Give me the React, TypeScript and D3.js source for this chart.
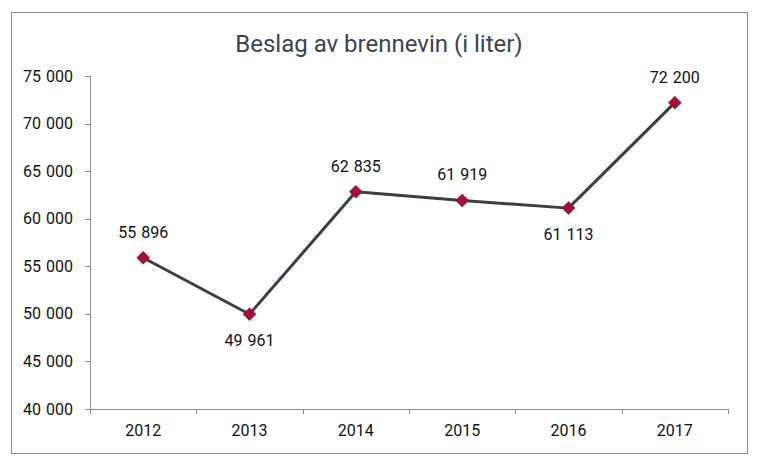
import React from "react";
import * as d3 from "d3";

const years = ["2012", "2013", "2014", "2015", "2016", "2017"];
const values = [55896, 49961, 62835, 61919, 61113, 72200];
const labelPos = ["above", "below", "above", "above", "below", "above"];
const yTicks = [40000, 45000, 50000, 55000, 60000, 65000, 70000, 75000];
const title = "Beslag av brennevin (i liter)";

const W = 760;
const H = 466;
const margin = { left: 90, right: 32, top: 76, bottom: 57 };

const fmtParts = (v: number) => d3.format(",")(v).split(",");

function Num({ v, ...rest }: any) {
  const parts = fmtParts(v);
  return (
    <text {...rest}>
      {parts.map((p, i) => (
        <tspan key={i} dx={i === 0 ? 0 : 5}>
          {p}
        </tspan>
      ))}
    </text>
  );
}

export default function App() {
  const x = d3
    .scaleBand<string>()
    .domain(years)
    .range([margin.left, W - margin.right])
    .paddingInner(0)
    .paddingOuter(0);
  const y = d3
    .scaleLinear()
    .domain([40000, 75000])
    .range([H - margin.bottom, margin.top]);
  const cx = (d: string) => (x(d) as number) + x.bandwidth() / 2;
  const line = d3
    .line<number>()
    .x((_, i) => cx(years[i]))
    .y((d) => y(d));
  const font = "Roboto, 'Noto Sans', sans-serif";
  const axisColor = "#8c8c8c";
  const y0 = y(40000);
  const boundaries = years.map((d) => x(d) as number).concat([W - margin.right]);

  return (
    <svg
      width={W}
      height={H}
      style={{ position: "absolute", left: 0, top: 0, display: "block" }}
      fontFamily={font}
    >
      <rect x={0} y={0} width={W} height={H} fill="#fff" />
      <rect x={11.5} y={12.5} width={736} height={441} fill="none" stroke="#8c8c8c" strokeWidth={1} />
      <text x={379} y={52} textAnchor="middle" fontSize={24} fill="#3b4350">
        {title}
      </text>
      {/* y axis */}
      <line x1={margin.left + 0.5} x2={margin.left + 0.5} y1={y(75000)} y2={y0} stroke={axisColor} />
      {yTicks.map((t) => (
        <g key={t}>
          <line x1={margin.left - 5} x2={margin.left} y1={Math.round(y(t)) + 0.5} y2={Math.round(y(t)) + 0.5} stroke={axisColor} />
          <Num v={t} x={73} y={y(t) + 5.5} textAnchor="end" fontSize={16} fill="#111" />
        </g>
      ))}
      {/* x axis */}
      <line x1={margin.left} x2={W - margin.right} y1={Math.round(y0) + 0.5} y2={Math.round(y0) + 0.5} stroke={axisColor} />
      {boundaries.map((b, i) => (
        <line key={i} x1={Math.round(b) + 0.5} x2={Math.round(b) + 0.5} y1={y0} y2={y0 + 5} stroke={axisColor} />
      ))}
      {years.map((d) => (
        <text key={d} x={cx(d)} y={y0 + 27} textAnchor="middle" fontSize={16} fill="#111">
          {d}
        </text>
      ))}
      <path d={line(values) || ""} fill="none" stroke="#3a3f47" strokeWidth={3} strokeLinejoin="round" />
      {values.map((v, i) => {
        const px = cx(years[i]);
        const py = y(v);
        return (
          <g key={i}>
            <path
              d={`M${px},${py - 6.5}L${px + 6.5},${py}L${px},${py + 6.5}L${px - 6.5},${py}Z`}
              fill="#a50e36"
              stroke="#8a0a2c"
              strokeWidth={0.5}
            />
            <Num
              v={v}
              x={px}
              y={labelPos[i] === "above" ? py - 20 : py + 32}
              textAnchor="middle"
              fontSize={16}
              fill="#111"
            />
          </g>
        );
      })}
    </svg>
  );
}
